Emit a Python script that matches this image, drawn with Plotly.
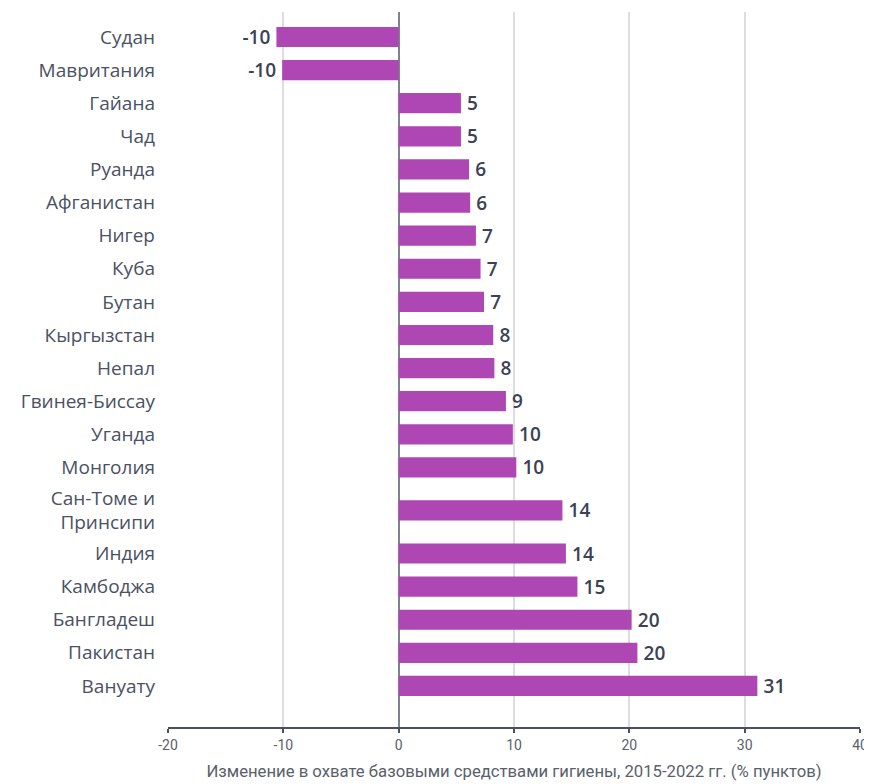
import plotly.graph_objects as go

countries = ["Судан", "Мавритания", "Гайана", "Чад", "Руанда", "Афганистан", "Нигер",
             "Куба", "Бутан", "Кыргызстан", "Непал", "Гвинея-Биссау", "Уганда", "Монголия",
             "Сан-Томе и<br>Принсипи", "Индия", "Камбоджа", "Бангладеш", "Пакистан", "Вануату"]
values = [-10.6, -10.1, 5.4, 5.4, 6.1, 6.2, 6.7, 7.1, 7.4, 8.2, 8.3, 9.3, 9.9, 10.2,
          14.2, 14.5, 15.5, 20.2, 20.7, 31.1]
labels = ["-10", "-10", "5", "5", "6", "6", "7", "7", "7", "8", "8", "9", "10", "10",
          "14", "14", "15", "20", "20", "31"]
x_ticks = [-20, -10, 0, 10, 20, 30, 40]
x_title = "Изменение в охвате базовыми средствами гигиены, 2015-2022 гг. (% пунктов)"

# row positions: rows next to a two-line label get a little more room
n_lines = [c.count("<br>") + 1 for c in countries]
positions = [0.0]
for i in range(1, len(countries)):
    step = 1.3 if max(n_lines[i - 1], n_lines[i]) > 1 else 1.0
    positions.append(positions[-1] + step)

bar_text = [(l + "\u2009") if v < 0 else ("\u2009" + l) for l, v in zip(labels, values)]

fig = go.Figure(go.Bar(
    x=values, y=positions, orientation="h",
    marker=dict(color="#AE47B3", line=dict(width=0)),
    text=bar_text, textposition="outside", cliponaxis=False,
    constraintext="none",
    textfont=dict(family="Open Sans", size=19, color="#3b4253", weight=600),
    hoverinfo="skip",
))

fig.update_layout(
    width=864, height=776,
    margin=dict(l=160, r=12, t=4, b=57),
    plot_bgcolor="white", paper_bgcolor="white",
    bargap=0.39, showlegend=False,
    xaxis=dict(
        range=[-20, 40], tickvals=x_ticks, ticktext=[str(t) for t in x_ticks],
        automargin=False,
        showgrid=True, gridcolor="#dcdce2", gridwidth=1.5,
        zeroline=True, zerolinecolor="#7d8290", zerolinewidth=1.5,
        showline=True, linecolor="#4a5060", linewidth=1.5,
        ticks="outside", ticklen=4, tickcolor="#4a5060", tickwidth=1.5,
        tickfont=dict(family="Roboto", size=14, color="#5a5f6b"),
        title=dict(text=x_title, standoff=14,
                   font=dict(family="Roboto", size=16.7, color="#5a5f6b")),
    ),
    yaxis=dict(
        tickvals=positions, ticktext=countries,
        range=[positions[-1] + 1.24, -0.755], showgrid=False, zeroline=False, showline=False,
        automargin=False,
        ticks="", ticklabelstandoff=12,
        tickfont=dict(family="Open Sans", size=19, color="#4a5163"),
    ),
)

fig.write_html("out.html")
